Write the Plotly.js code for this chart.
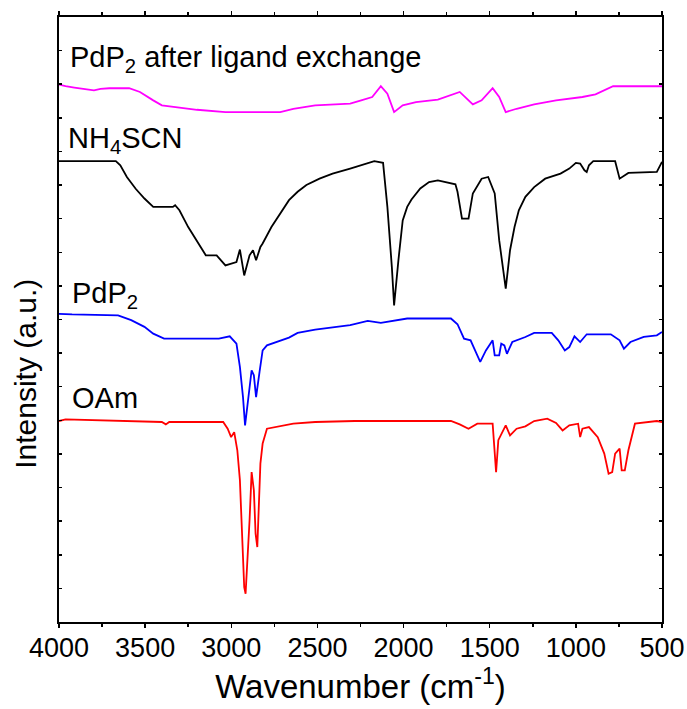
<!DOCTYPE html>
<html>
<head>
<meta charset="utf-8">
<script src="https://cdn.plot.ly/plotly-3.0.1.min.js"></script>
<style>html,body{margin:0;padding:0;background:#fff;}#chart{width:687px;height:709px;}</style>
</head>
<body>
<div id="chart"></div>
<script>
// PdP2 after ligand exchange (magenta)
var exchWn  = [4000,3962,3911,3835,3797,3759,3708,3593,3530,3453,3403,3199,3034,2716,2640,2513,2310,2246,2182,2132,2094,2055,2005,1928,1801,1674,1598,1547,1483,1445,1407,1344,1242,1115,962,886,784,500];
var exchVal = [15.99,15.94,15.90,15.84,15.82,15.86,15.88,15.88,15.77,15.52,15.37,15.24,15.17,15.17,15.27,15.37,15.42,15.52,15.62,15.94,15.72,15.17,15.37,15.47,15.54,15.77,15.40,15.52,15.88,15.62,15.17,15.27,15.40,15.52,15.62,15.70,15.94,15.94];

// NH4SCN (black)
var scnWn  = [4000,3670,3644,3606,3555,3504,3453,3339,3326,3301,3250,3199,3148,3085,3034,2970,2950,2925,2894,2874,2856,2831,2818,2767,2716,2665,2615,2564,2488,2412,2310,2208,2170,2119,2094,2068,2055,2030,2005,1979,1954,1903,1852,1801,1750,1699,1687,1661,1623,1598,1547,1509,1471,1445,1407,1382,1356,1331,1293,1242,1178,1089,1038,1000,975,950,937,924,899,772,746,695,530,500];
var scnVal = [13.71,13.71,13.59,13.24,12.89,12.60,12.35,12.35,12.40,12.25,11.75,11.31,10.91,10.91,10.61,10.71,11.08,10.31,10.91,11.06,10.76,11.16,11.26,11.75,12.15,12.55,12.80,13.00,13.19,13.34,13.49,13.64,13.71,13.66,12.35,10.56,9.42,10.76,11.95,12.35,12.57,12.90,13.09,13.14,13.09,13.02,12.80,12.00,12.00,12.75,13.19,13.24,12.75,11.36,9.92,11.06,11.75,12.25,12.65,12.94,13.19,13.34,13.49,13.66,13.64,13.44,13.39,13.59,13.71,13.71,13.19,13.36,13.39,13.69];

// PdP2 (blue)
var pdpWn  = [4000,3924,3657,3581,3504,3453,3390,3072,3009,2970,2950,2932,2920,2902,2882,2869,2856,2836,2818,2793,2742,2665,2615,2564,2513,2310,2208,2132,2030,1979,1725,1687,1649,1611,1585,1555,1522,1483,1471,1445,1433,1415,1400,1369,1293,1242,1140,1102,1064,1038,1008,975,937,797,746,721,683,606,530,500];
var pdpVal = [9.17,9.15,9.12,8.98,8.78,8.58,8.43,8.43,8.50,8.28,7.59,6.69,5.85,6.60,7.49,7.34,6.69,7.44,8.08,8.23,8.33,8.46,8.60,8.66,8.70,8.83,8.96,8.90,8.99,9.03,9.03,8.86,8.43,8.38,8.08,7.74,8.08,8.38,7.93,7.93,8.28,8.23,7.98,8.33,8.48,8.60,8.60,8.38,8.08,8.18,8.50,8.33,8.56,8.56,8.38,8.13,8.33,8.48,8.53,8.63];

// OAm (red)
var oamWn  = [4000,3962,3403,3380,3360,3047,3021,3001,2983,2965,2950,2937,2925,2917,2907,2894,2882,2869,2859,2849,2831,2818,2793,2729,2640,2513,2284,1725,1674,1623,1572,1483,1471,1463,1450,1433,1407,1382,1344,1293,1242,1166,1115,1077,1038,987,975,962,924,873,835,810,789,772,746,734,716,695,657,530,500];
var oamVal = [5.98,6.03,5.95,5.88,5.95,5.95,5.75,5.50,5.65,5.11,4.22,2.73,1.04,0.84,1.64,3.02,4.46,3.92,2.63,2.23,4.71,5.31,5.75,5.82,5.90,5.95,5.98,5.98,5.88,5.75,5.90,5.90,5.11,4.46,5.41,5.60,5.85,5.55,5.75,5.82,5.98,6.05,5.92,5.70,5.85,5.90,5.50,5.75,5.80,5.50,5.01,4.41,4.46,5.01,5.16,4.51,4.51,5.11,5.90,5.98,5.95];

var labels = ["PdP<sub>2</sub> after ligand exchange", "NH<sub>4</sub>SCN", "PdP<sub>2</sub>", "OAm"];
var xTickVals = [4000,3500,3000,2500,2000,1500,1000,500];

var FONT = "Liberation Sans, Arial, sans-serif";

function tr(x, y, color, name) {
  return {x: x, y: y, type: "scatter", mode: "lines", name: name,
          line: {color: color, width: 1.8}, hoverinfo: "skip"};
}

var data = [
  tr(exchWn, exchVal, "#FF00FF", labels[0]),
  tr(scnWn, scnVal, "#000000", labels[1]),
  tr(pdpWn, pdpVal, "#0000FF", labels[2]),
  tr(oamWn, oamVal, "#FF0000", labels[3])
];

var annFont = {family: FONT, size: 29, color: "#000"};
var layout = {
  width: 687, height: 709,
  margin: {l: 59, r: 25, t: 17, b: 87},
  paper_bgcolor: "#fff", plot_bgcolor: "#fff",
  showlegend: false,
  font: {family: FONT, color: "#000"},
  xaxis: {
    range: [4000, 500], autorange: false,
    tickvals: xTickVals, ticktext: xTickVals.map(String),
    ticks: "outside", ticklen: 4, tickwidth: 1.5, tickcolor: "#000",
    minor: {dtick: 250, ticks: "outside", ticklen: 3, tickwidth: 1.5, tickcolor: "#000"},
    showline: true, linewidth: 2, linecolor: "#000", mirror: "ticks",
    showgrid: false, zeroline: false,
    ticklabelstandoff: -3,
    tickfont: {family: FONT, size: 27, color: "#000"},
    title: {text: "Wavenumber (cm<sup>-1</sup>)", font: {family: FONT, size: 33, color: "#000"}, standoff: 10}
  },
  yaxis: {
    range: [0, 18], autorange: false,
    dtick: 1, tick0: 0,
    ticks: "inside", ticklen: 3, tickwidth: 1.5, tickcolor: "#000",
    showticklabels: false,
    showline: true, linewidth: 2, linecolor: "#000", mirror: "ticks",
    showgrid: false, zeroline: false
  },
  annotations: [
    {text: labels[0], xref: "paper", yref: "paper", x: 0.015, y: 0.930, xanchor: "left", yanchor: "middle", showarrow: false, font: annFont},
    {text: labels[1], xref: "paper", yref: "paper", x: 0.012, y: 0.797, xanchor: "left", yanchor: "middle", showarrow: false, font: annFont},
    {text: labels[2], xref: "paper", yref: "paper", x: 0.019, y: 0.540, xanchor: "left", yanchor: "middle", showarrow: false, font: annFont},
    {text: labels[3], xref: "paper", yref: "paper", x: 0.019, y: 0.371, xanchor: "left", yanchor: "middle", showarrow: false, font: annFont},
    {text: "Intensity (a.u.)", xref: "paper", yref: "paper", x: -0.0556, y: 0.411, xanchor: "center", yanchor: "middle", textangle: -90, showarrow: false, font: {family: FONT, size: 30, color: "#000"}}
  ]
};

Plotly.newPlot("chart", data, layout, {staticPlot: true, displayModeBar: false});
</script>
</body>
</html>
